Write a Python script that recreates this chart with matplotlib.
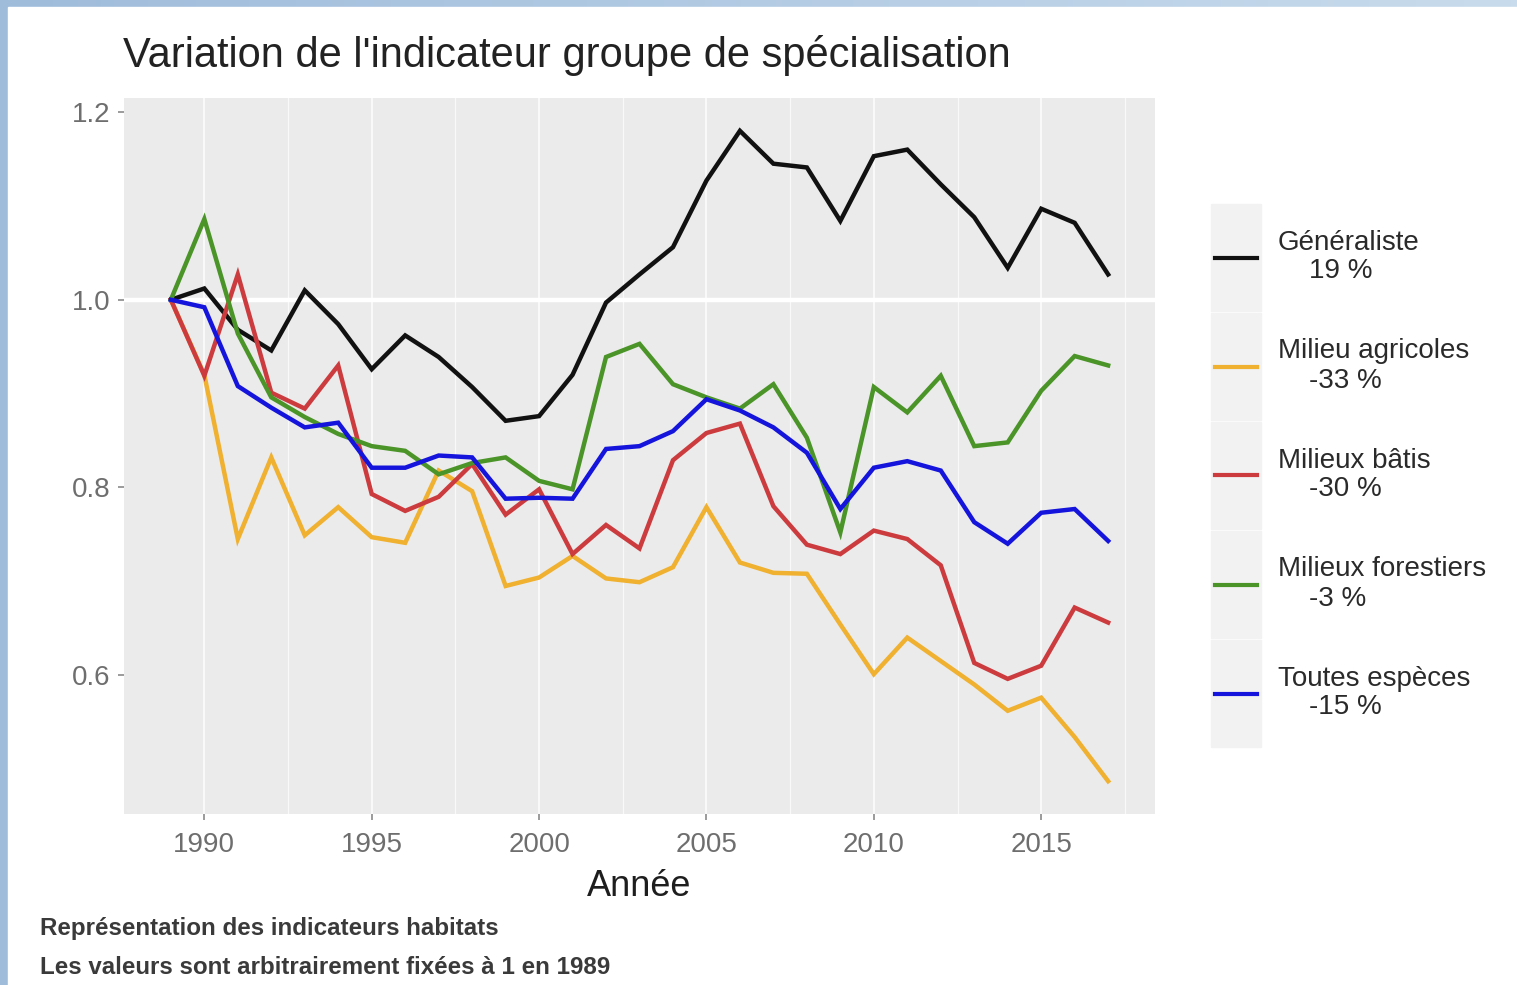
"""
Variation de l'indicateur groupe de spécialisation (indicateurs habitats).
"""

import numpy as np
import matplotlib

matplotlib.use("Agg")
import matplotlib.pyplot as plt
from matplotlib.patches import Rectangle
from matplotlib.lines import Line2D


# --- Données (base 1 en 1989) ---
annees = list(range(1989, 2018))

generaliste = [1.000, 1.012, 0.968, 0.946, 1.010, 0.974, 0.926, 0.962, 0.939, 0.907,
               0.871, 0.876, 0.920, 0.997, 1.027, 1.056, 1.127, 1.180, 1.145, 1.141,
               1.084, 1.153, 1.160, 1.123, 1.088, 1.034, 1.097, 1.082, 1.027]
agricoles = [1.000, 0.920, 0.745, 0.832, 0.749, 0.779, 0.747, 0.741, 0.818, 0.796,
             0.695, 0.704, 0.727, 0.703, 0.699, 0.715, 0.779, 0.720, 0.709, 0.708,
             0.654, 0.601, 0.640, 0.615, 0.590, 0.562, 0.576, 0.534, 0.487]
batis = [1.000, 0.919, 1.027, 0.901, 0.884, 0.930, 0.793, 0.775, 0.790, 0.825,
         0.771, 0.798, 0.729, 0.760, 0.735, 0.829, 0.858, 0.868, 0.780, 0.739,
         0.729, 0.754, 0.745, 0.717, 0.613, 0.596, 0.610, 0.672, 0.656]
forestiers = [1.000, 1.086, 0.964, 0.896, 0.875, 0.857, 0.844, 0.839, 0.814, 0.826,
              0.832, 0.807, 0.798, 0.939, 0.953, 0.910, 0.896, 0.884, 0.910, 0.853,
              0.752, 0.907, 0.880, 0.919, 0.844, 0.848, 0.903, 0.940, 0.930]
toutes = [1.000, 0.992, 0.908, 0.885, 0.864, 0.869, 0.821, 0.821, 0.834, 0.832,
          0.788, 0.789, 0.788, 0.841, 0.844, 0.860, 0.894, 0.882, 0.864, 0.837,
          0.777, 0.821, 0.828, 0.818, 0.763, 0.740, 0.773, 0.777, 0.743]

noms = ["Généraliste", "Milieu agricoles", "Milieux bâtis", "Milieux forestiers", "Toutes espèces"]
variations = ["19 %", "-33 %", "-30 %", "-3 %", "-15 %"]
couleurs = ["#111111", "#F0B030", "#CC3B3E", "#4A9428", "#1414DC"]
series = [generaliste, agricoles, batis, forestiers, toutes]

x_ticks = [1990, 1995, 2000, 2005, 2010, 2015]
y_ticks = [0.6, 0.8, 1.0, 1.2]

# --- Mise en page (pixels) ---
W, H = 1517, 985
FONT = ["Liberation Sans Narrow", "Liberation Sans", "DejaVu Sans"]
plt.rcParams["font.family"] = FONT


def fx(x):
    return x / W


def fy(y):
    return 1 - y / H


def fond(fig):
    """Bandeau bleu (capture d'écran d'une diapositive)."""
    bg = fig.add_axes([0, 0, 1, 1], zorder=-10)
    grad = np.linspace(0, 1, 256)[None, :]
    bg.imshow(grad, extent=[0, 1, 0, 1], aspect="auto",
              cmap=matplotlib.colors.LinearSegmentedColormap.from_list("b", ["#9fbcdb", "#c8dbec"]))
    bg.add_patch(Rectangle((fx(8), 0), 1, fy(7), color="white", transform=bg.transAxes))
    bg.set_xlim(0, 1)
    bg.set_ylim(0, 1)
    bg.axis("off")


def graphique(fig):
    ax = fig.add_axes([fx(124), fy(814), fx(1155 - 124), (814 - 98) / H])
    ax.set_facecolor("#EBEBEB")
    for s in ax.spines.values():
        s.set_visible(False)

    # grille verticale discrète, ligne blanche à 1
    for yr in np.arange(1987.5, 2019, 2.5):
        lw = 1.5 if yr % 5 == 0 else 0.9
        ax.axvline(yr, color="white", lw=lw, alpha=0.75, zorder=0)
    ax.axhline(1.0, color="white", lw=3.2, zorder=1)

    for valeurs, coul in zip(series, couleurs):
        ax.plot(annees, valeurs, color=coul, lw=3.2, solid_joinstyle="miter", zorder=3)

    ax.set_xlim(1987.6, 2018.4)
    ax.set_ylim(0.452, 1.215)
    ax.set_xticks(x_ticks)
    ax.set_yticks(y_ticks)
    ax.set_yticklabels([f"{v:.1f}" for v in y_ticks])
    ax.tick_params(axis="both", colors="#8A8A8A", length=4, width=1.2,
                   labelsize=20, labelcolor="#6E6E6E", pad=6)
    ax.tick_params(axis="x", pad=9)
    ax.set_xlabel("Année", fontsize=26, color="#1E1E1E", labelpad=8)

    fig.text(fx(123), fy(55), "Variation de l'indicateur groupe de spécialisation",
             fontsize=30, color="#222222", va="center", ha="left")


def legende(fig):
    top, hauteur = 203, 109
    for i, (nom, var, coul) in enumerate(zip(noms, variations, couleurs)):
        y0 = top + i * hauteur
        fig.patches.append(Rectangle((fx(1211), fy(y0 + hauteur - 1)), fx(50), (hauteur - 2) / H,
                                     transform=fig.transFigure, color="#F2F2F2", zorder=1))
        yc = y0 + hauteur / 2
        fig.lines.append(Line2D([fx(1215), fx(1257)], [fy(yc), fy(yc)],
                                transform=fig.transFigure, color=coul, lw=3.0, zorder=2))
        fig.text(fx(1278), fy(yc - 15), nom, fontsize=20, color="#2A2A2A", va="center", ha="left")
        fig.text(fx(1278), fy(yc + 14), "    " + var, fontsize=20, color="#2A2A2A",
                 va="center", ha="left")


def legende_bas(fig):
    fig.text(fx(40), fy(928), "Représentation des indicateurs habitats",
             fontsize=17.4, fontweight="bold", color="#3A3A3A", va="center")
    fig.text(fx(40), fy(967), "Les valeurs sont arbitrairement fixées à 1 en 1989",
             fontsize=17.4, fontweight="bold", color="#3A3A3A", va="center")


def main():
    fig = plt.figure(figsize=(W / 100, H / 100), dpi=100)
    fond(fig)
    graphique(fig)
    legende(fig)
    legende_bas(fig)
    fig.savefig("out.png", dpi=100)
    plt.close(fig)


if __name__ == "__main__":
    main()
